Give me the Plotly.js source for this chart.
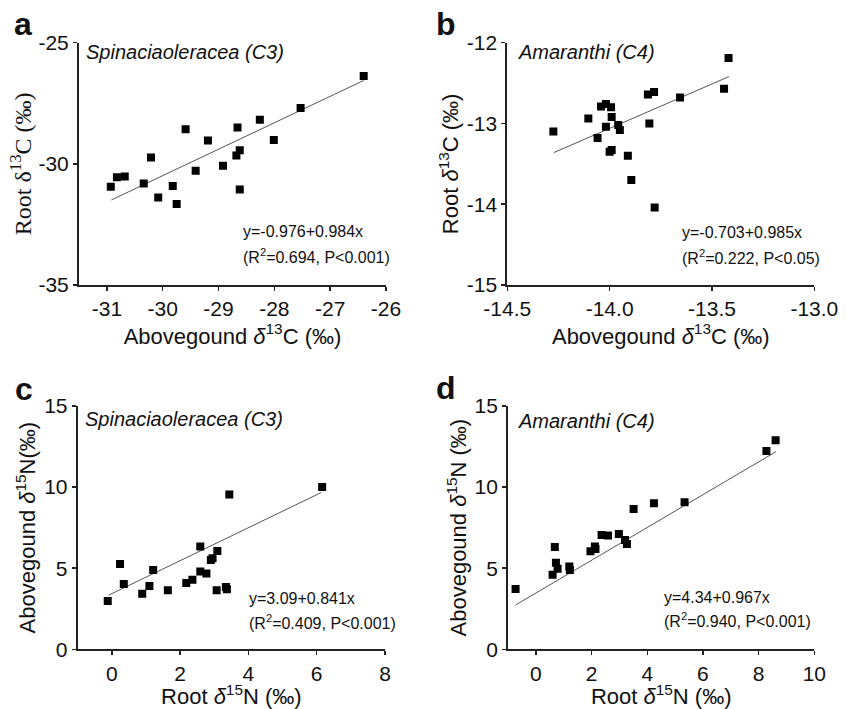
<!DOCTYPE html>
<html><head><meta charset="utf-8">
<script src="https://cdn.plot.ly/plotly-3.0.1.min.js"></script>
<style>html,body{margin:0;padding:0;background:#fff}#chart{width:851px;height:709px}</style>
</head><body><div id="chart"></div>
<script>
// ---- Panel a: Spinaciaoleracea (C3), d13C ----
const aX = [-30.93,-30.82,-30.68,-30.34,-30.21,-30.08,-29.82,-29.75,-29.59,-29.41,-29.19,-28.92,-28.68,-28.66,-28.62,-28.62,-28.26,-28.01,-27.53,-26.40];
const aY = [-30.94,-30.55,-30.52,-30.81,-29.74,-31.39,-30.91,-31.66,-28.57,-30.28,-29.04,-30.08,-29.66,-28.50,-29.44,-31.06,-28.18,-29.02,-27.70,-26.38];
const aFitX = [-30.92,-26.40];
const aFitY = [-31.49,-26.56];
const aXTicks = [-31,-30,-29,-28,-27,-26];
const aXLabels = ['-31','-30','-29','-28','-27','-26'];
const aYTicks = [-35,-30,-25];
const aYLabels = ['-35','-30','-25'];

// ---- Panel b: Amaranthi (C4), d13C ----
const bX = [-14.275,-14.104,-14.059,-14.042,-14.018,-14.018,-13.993,-13.990,-14.000,-13.990,-13.958,-13.950,-13.911,-13.894,-13.813,-13.783,-13.806,-13.780,-13.656,-13.441,-13.419];
const bY = [-13.10,-12.94,-13.18,-12.79,-12.76,-13.04,-12.80,-12.92,-13.35,-13.33,-13.02,-13.08,-13.40,-13.70,-12.64,-12.61,-13.00,-14.04,-12.68,-12.57,-12.19];
const bFitX = [-14.272,-13.417];
const bFitY = [-13.36,-12.42];
const bXTicks = [-14.5,-14.0,-13.5,-13.0];
const bXLabels = ['-14.5','-14.0','-13.5','-13.0'];
const bYTicks = [-15,-14,-13,-12];
const bYLabels = ['-15','-14','-13','-12'];

// ---- Panel c: Spinaciaoleracea (C3), d15N ----
const cX = [-0.12,0.24,0.35,0.89,1.10,1.21,1.64,2.18,2.36,2.59,2.59,2.77,2.90,2.95,3.09,3.07,3.34,3.37,3.44,6.16];
const cY = [2.98,5.26,4.03,3.43,3.90,4.89,3.64,4.09,4.29,6.33,4.79,4.68,5.51,5.61,6.06,3.64,3.84,3.70,9.55,10.01];
const cFitX = [-0.10,6.13];
const cFitY = [3.33,9.66];
const cXTicks = [0,2,4,6,8];
const cYTicks = [0,5,10,15];

// ---- Panel d: Amaranthi (C4), d15N ----
const dX = [-0.73,0.60,0.68,0.72,0.78,1.20,1.22,1.96,2.12,2.14,2.36,2.59,2.98,3.20,3.27,3.51,4.24,5.34,8.28,8.61];
const dY = [3.72,4.60,6.31,5.34,4.97,5.10,4.89,6.04,6.33,6.18,7.05,7.01,7.11,6.74,6.49,8.65,9.00,9.06,12.23,12.88];
const dFitX = [-0.73,8.62];
const dFitY = [2.73,12.18];
const dXTicks = [0,2,4,6,8,10];
const dYTicks = [0,5,10,15];

const SANS = 'Liberation Sans, Arial, sans-serif';
const SERIF = 'Liberation Serif, Times New Roman, serif';
const AX = '#222';

function pts(x,y,xa,ya){return {x:x,y:y,xaxis:xa,yaxis:ya,type:'scatter',mode:'markers',
  marker:{symbol:'square',size:8,color:'#000'},hoverinfo:'skip',showlegend:false};}
function fit(x,y,xa,ya){return {x:x,y:y,xaxis:xa,yaxis:ya,type:'scatter',mode:'lines',
  line:{color:'#555',width:1},hoverinfo:'skip',showlegend:false};}

const data = [
  fit(aFitX,aFitY,'x','y'), pts(aX,aY,'x','y'),
  fit(bFitX,bFitY,'x2','y2'), pts(bX,bY,'x2','y2'),
  fit(cFitX,cFitY,'x3','y3'), pts(cX,cY,'x3','y3'),
  fit(dFitX,dFitY,'x4','y4'), pts(dX,dY,'x4','y4')
];

function axis(dom, range, tv, tt, title, tfont, standoff, anchor){
  return {domain:dom, range:range, anchor:anchor, showline:true, linecolor:AX, linewidth:2,
    ticks:'outside', ticklen:4, tickwidth:1.5, tickcolor:AX, showgrid:false, zeroline:false,
    tickmode:'array', tickvals:tv, ticktext:tt, tickfont:{family:SANS,size:21,color:'#111'},
    title:{text:title, font:tfont, standoff:standoff}, automargin:false, fixedrange:true};
}
const titleSans = {family:SANS,size:22,color:'#111'};
const titleSerif = {family:SERIF,size:24,color:'#111'};

const d = '<i>δ</i>';
const layout = {
  width:851, height:709, margin:{l:0,r:0,t:0,b:0}, paper_bgcolor:'#fff', plot_bgcolor:'#fff',
  showlegend:false,
  xaxis: axis([0.0928,0.4536],[-31.5,-26],aXTicks,aXLabels,'Abovegound '+d+'<sup>13</sup>C (‰)',titleSans,9,'y'),
  yaxis: axis([0.598,0.9398],[-35,-25],aYTicks,aYLabels,'Root δ<sup>13</sup>C (‰)',titleSerif,0,'x'),
  xaxis2: axis([0.5961,0.9569],[-14.5,-13.0],bXTicks,bXLabels,'Abovegound '+d+'<sup>13</sup>C (‰)',titleSans,9,'y2'),
  yaxis2: axis([0.598,0.9398],[-15,-12],bYTicks,bYLabels,'Root '+d+'<sup>13</sup>C (‰)',titleSans,2,'x2'),
  xaxis3: axis([0.0913,0.4524],[-1,8],cXTicks,cXTicks.map(String),'Root '+d+'<sup>15</sup>N (‰)',titleSans,11,'y3'),
  yaxis3: axis([0.0842,0.4274],[0,15],cYTicks,cYTicks.map(String),'Abovegound '+d+'<sup>15</sup>N(‰)',titleSans,2,'x3'),
  xaxis4: axis([0.597,0.9569],[-1,10],dXTicks,dXTicks.map(String),'Root '+d+'<sup>15</sup>N (‰)',titleSans,11,'y4'),
  yaxis4: axis([0.0842,0.4274],[0,15],dYTicks,dYTicks.map(String),'Abovegound '+d+'<sup>15</sup>N (‰)',titleSans,2,'x4'),
  annotations: []
};

function ann(x,y,text,size){
  return {xref:'paper',yref:'paper',x:x/851,y:1-y/709,text:text,showarrow:false,
    xanchor:'left',yanchor:'middle',font:{family:SANS,size:size,color:'#111'}};
}
layout.annotations.push(
  ann(12,24,'<b>a</b>',32), ann(434,24,'<b>b</b>',32), ann(13,389,'<b>c</b>',32), ann(434,388,'<b>d</b>',32),
  ann(84,52,'<i>Spinaciaoleracea (C3)</i>',20), ann(516,52,'<i>Amaranthi (C4)</i>',20),
  ann(83,419,'<i>Spinaciaoleracea (C3)</i>',20), ann(516,421,'<i>Amaranthi (C4)</i>',20),
  ann(241,232,'y=-0.976+0.984x',16), ann(241,256,'(R<sup>2</sup>=0.694, P<0.001)',16),
  ann(680,233,'y=-0.703+0.985x',16), ann(680,257,'(R<sup>2</sup>=0.222, P<0.05)',16),
  ann(247,598,'y=3.09+0.841x',16), ann(247,622,'(R<sup>2</sup>=0.409, P<0.001)',16),
  ann(662,597,'y=4.34+0.967x',16), ann(662,620,'(R<sup>2</sup>=0.940, P<0.001)',16)
);

Plotly.newPlot('chart', data, layout, {staticPlot:true, displayModeBar:false});
</script></body></html>
